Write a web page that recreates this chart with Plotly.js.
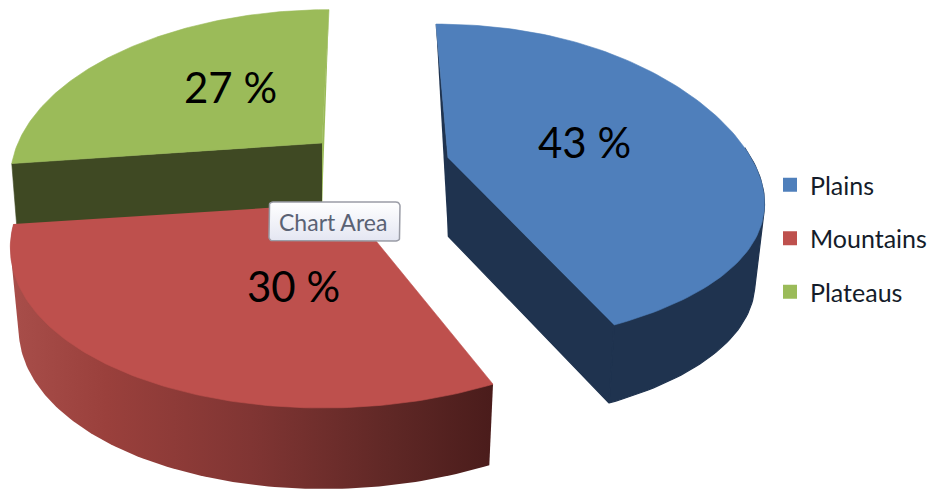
<!DOCTYPE html>
<html><head><meta charset="utf-8">
<script src="https://cdn.plot.ly/plotly-3.0.1.min.js"></script>
<style>html,body{margin:0;padding:0;background:#fff}#c{width:932px;height:489px}</style>
</head><body><div id="c"></div>
<script>
const categories = ["Plains", "Mountains", "Plateaus"];
const values = [43, 30, 27];
const topColors = ["#4F7FBB", "#BE504D", "#9BBB59"];
const wallColors = ["#1F334F", null, "#3F4923"];
const redWallScale = [[0,"#A84E4A"],[0.2,"#9A403C"],[0.5,"#803533"],[0.8,"#5E2725"],[1,"#4A1C1B"]];
const labelPos = [[584,142],[293,286],[230,87]];

// projection settings for each exploded slice
const geom = [
  {ax:448,ay:158,rx:310,ry:156,p:.165,lean:-12,h:78,shrink:.03,tilt:14},
  {ax:345,ay:203,rx:323,ry:164,p:.2,lean:22,h:81,shrink:.025,tilt:0},
  {ax:322,ay:143,rx:304,ry:160,p:.2,lean:7,h:62,shrink:.016,tilt:0}
];
const total = values.reduce((a,b)=>a+b,0);

function project(g, deg, r){
  const t = deg*Math.PI/180, c = Math.cos(t), s = Math.sin(t), w = 1+g.p*c;
  return [g.ax + r*(g.rx*s/w + g.lean*c), g.ay + r*(-g.ry*c/w + g.tilt*s*s*s)];
}
function lower(g, p){ return [p[0]-g.shrink*(p[0]-g.ax), p[1]+g.h]; }
function arc(g,a0,a1){ const out=[]; for(let i=0;i<=120;i++) out.push(project(g,a0+(a1-a0)*i/120,1)); return out; }
function hull(pts){
  const s = pts.slice().sort((a,b)=>a[0]-b[0]||a[1]-b[1]);
  const cr = (o,a,b)=>(a[0]-o[0])*(b[1]-o[1])-(a[1]-o[1])*(b[0]-o[0]);
  const half = list=>{const h=[]; list.forEach(p=>{while(h.length>1&&cr(h[h.length-2],h[h.length-1],p)<=0)h.pop(); h.push(p);}); h.pop(); return h;};
  const out = half(s).concat(half(s.slice().reverse()));
  out.push(out[0]);
  return out;
}
function poly(pts,extra){
  return Object.assign({type:"scatter",mode:"lines",x:pts.map(p=>p[0]),y:pts.map(p=>p[1]),fill:"toself",
    line:{width:0.6},hoverinfo:"skip",showlegend:false},extra);
}

let a = 0; const spans = values.map(v=>{const s=[a,a+v/total*360]; a=s[1]; return s;});
const order = [2,1,0], traces = [];
order.forEach(i=>{
  const g = geom[i], [a0,a1] = spans[i], rim = arc(g,a0,a1), apex = [g.ax,g.ay];
  const flat = (c,w)=>({fillcolor:c,line:{width:w||0.6,color:c}});
  if(i===0){
    // outer wall, cut face towards the viewer, and thin sliver of the far cut face
    const front = rim.filter((p,k)=>(a0+(a1-a0)*k/120)>=80);
    traces.push(poly(hull(front.concat(front.map(p=>lower(g,p)))),flat(wallColors[0],1.2)));
    const e = rim[rim.length-1];
    traces.push(poly([apex,e,lower(g,e),lower(g,apex)],flat(wallColors[0],1.2)));
    traces.push(poly([rim[0],apex,lower(g,apex)],flat(wallColors[0])));
  } else if(i===1){
    traces.push(poly(hull(rim.concat(rim.map(p=>lower(g,p)))),{
      fillgradient:{type:"horizontal",colorscale:redWallScale},line:{width:0}}));
  } else {
    const s = rim[0], e = rim[rim.length-1];
    traces.push(poly([e,apex,lower(g,apex)],flat(topColors[2])));
    traces.push(poly([apex,s,lower(g,s),lower(g,apex)],flat(wallColors[2])));
  }
  traces.push(poly([apex].concat(rim),flat(topColors[i])));
});

// "Chart Area" hover box
const box = {x0:269,x1:400,y0:202,y1:241,r:4};
const boxPts = [];
[[box.x1-box.r,box.y0+box.r,-90],[box.x1-box.r,box.y1-box.r,0],[box.x0+box.r,box.y1-box.r,90],[box.x0+box.r,box.y0+box.r,180]].forEach(c=>{
  for(let d=0;d<=90;d+=15){const t=(c[2]+d)*Math.PI/180; boxPts.push([c[0]+box.r*Math.cos(t),c[1]+box.r*Math.sin(t)]);}
});
boxPts.push(boxPts[0]);
traces.push(poly(boxPts,{fillgradient:{type:"vertical",colorscale:[[0,"#E4E6F2"],[1,"#FFFFFF"]]},line:{width:1.5,color:"#9A9CA6"}}));

// legend entries
categories.forEach((n,i)=>traces.push({type:"scatter",mode:"markers",x:[null],y:[null],name:n,legendgroup:n,
  marker:{symbol:"square",size:14,color:topColors[i]},hoverinfo:"skip"}));

const annotations = values.map((v,i)=>({x:labelPos[i][0],y:labelPos[i][1],xref:"x",yref:"y",text:v+" %",showarrow:false,
  font:{family:"Lato",size:42,color:"#000"}}));
annotations.push({x:333,y:222,xref:"x",yref:"y",text:"Chart Area",showarrow:false,font:{family:"Lato",size:23,color:"#5A6274"}});

Plotly.newPlot("c",traces,{
  width:932,height:489,margin:{l:0,r:0,t:0,b:0},paper_bgcolor:"#fff",plot_bgcolor:"#fff",
  xaxis:{range:[0,932],visible:false,fixedrange:true},
  yaxis:{range:[489,0],visible:false,fixedrange:true},
  showlegend:true,
  legend:{x:770/932,xanchor:"left",y:1-162/489,yanchor:"top",tracegroupgap:18,bgcolor:"rgba(0,0,0,0)",
    font:{family:"Lato",size:25,color:"#141C2A"}},
  annotations
},{displayModeBar:false,staticPlot:true});
</script></body></html>
